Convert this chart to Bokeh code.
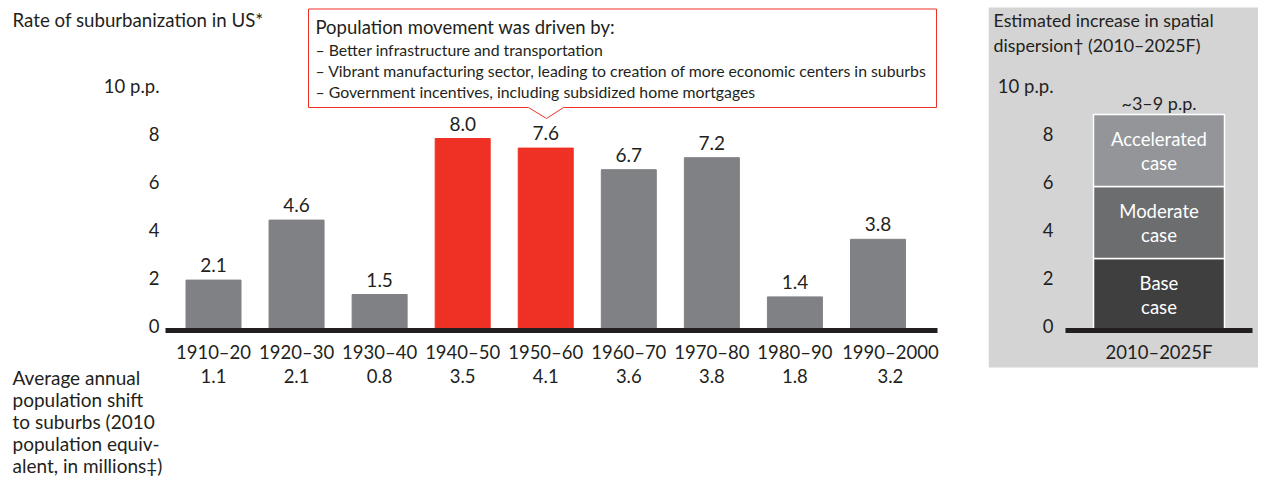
from bokeh.plotting import figure
from bokeh.models import Range1d, FixedTicker, LinearAxis, Label, ColumnDataSource
from bokeh.layouts import row
from bokeh.embed import file_html
from bokeh.resources import INLINE
from bokeh.core.properties import value

# ---------------- data ----------------
decades = ["1910–20", "1920–30", "1930–40", "1940–50", "1950–60",
           "1960–70", "1970–80", "1980–90", "1990–2000"]
rates = [2.1, 4.6, 1.5, 8.0, 7.6, 6.7, 7.2, 1.4, 3.8]
rate_labels = ["2.1", "4.6", "1.5", "8.0", "7.6", "6.7", "7.2", "1.4", "3.8"]
highlighted = [False, False, False, True, True, False, False, False, False]
pop_shift = ["1.1", "2.1", "0.8", "3.5", "4.1", "3.6", "3.8", "1.8", "3.2"]
y_ticks = [0, 2, 4, 6, 8, 10]
y_tick_labels = ["0", "2", "4", "6", "8", "10 p.p."]

forecast_period = ["2010–2025F"]
case_names = ["Base", "Moderate", "Accelerated"]
case_bottoms = [0, 3, 6]
case_tops = [3, 6, 9]
range_label = "~3–9 p.p."

title_left = "Rate of suburbanization in US*"
title_right = ["Estimated increase in spatial", "dispersion† (2010–2025F)"]
callout_head = "Population movement was driven by:"
callout_items = ["– Better infrastructure and transportation",
                 "– Vibrant manufacturing sector, leading to creation of more economic centers in suburbs",
                 "– Government incentives, including subsidized home mortgages"]
shift_caption = ["Average annual", "population shift", "to suburbs (2010",
                 "population equiv-", "alent, in millions‡)"]

# ---------------- style ----------------
FONT = "Lato"
TXT = "#231f20"
GRAY = "#808184"
RED = "#ee3124"
PANEL = "#d4d4d5"
CASE_COLORS = ["#3f3f40", "#6c6d6f", "#939598"]
AX_FS = "18.5px"
VAL_FS = "19px"
TEXT_FS = "18px"

# page-pixel layout (figures start at the page's top-left corner)
PX_PER_UNIT = 24.0
BASE_Y = 330.0                      # page y of value 0
L_AXIS_LEFT, L_AXIS_RIGHT = 165.0, 937.0
STEP = 83.06                        # px between bar centres
FIRST_CENTER = 213.0
LW, LH = 988, 480
R_LEFT, RW, RH = 988, 270, 368
R_AXIS_LEFT, R_AXIS_RIGHT = 1065.0, 1252.0
R_CENTER, R_UNIT = 1158.5, 187.0
TICK_LIFT = 0.2                     # tick labels sit slightly above their gridline value
LAST_NUDGE = 0.15                   # last category label is nudged right as in the original


def lx(px):
    return (px - FIRST_CENTER) / STEP


def ly(py):
    return (BASE_Y - py) / PX_PER_UNIT


def rx(px):
    return (px - R_CENTER) / R_UNIT


def style_axis(ax, standoff, size=AX_FS):
    ax.axis_line_color = None
    ax.major_tick_line_color = None
    ax.minor_tick_line_color = None
    ax.major_tick_in = 0
    ax.major_tick_out = 0
    ax.minor_tick_in = 0
    ax.minor_tick_out = 0
    ax.major_label_standoff = standoff
    ax.major_label_text_font = FONT
    ax.major_label_text_font_size = size
    ax.major_label_text_color = TXT


def blank_fig(w, h, xr, yr):
    f = figure(width=w, height=h, output_backend="svg", toolbar_location=None,
               x_range=xr, y_range=yr, min_border=0,
               x_axis_location=None, y_axis_location=None)
    f.outline_line_color = None
    f.grid.visible = False
    f.background_fill_color = "white"
    f.border_fill_color = "white"
    return f


# ---------------- left figure ----------------
p = blank_fig(LW, LH, Range1d(lx(0), lx(LW)), Range1d(ly(LH), ly(0)))

idx = list(range(len(decades)))
src = ColumnDataSource(dict(x=idx, top=rates, lab=rate_labels,
                            color=[RED if h else GRAY for h in highlighted]))
p.vbar(x="x", top="top", bottom=0, width=55 / STEP, color="color", source=src)
p.text(x="x", y="top", text="lab", source=src, text_align="center", text_baseline="middle",
       y_offset=-15, text_font=value(FONT), text_font_size=VAL_FS, text_color=TXT)

lifted = [t + TICK_LIFT for t in y_ticks]
yax = LinearAxis(ticker=FixedTicker(ticks=lifted), fixed_location=lx(L_AXIS_LEFT),
                 major_label_overrides={t: s for t, s in zip(lifted, y_tick_labels)})
style_axis(yax, 6)
p.add_layout(yax, "left")

label_pos = idx[:-1] + [idx[-1] + LAST_NUDGE]
xax = LinearAxis(ticker=FixedTicker(ticks=label_pos), fixed_location=0,
                 major_label_overrides={t: d for t, d in zip(label_pos, decades)})
style_axis(xax, 10)
p.add_layout(xax, "below")

xax2 = LinearAxis(ticker=FixedTicker(ticks=label_pos), fixed_location=0,
                  major_label_overrides={t: v for t, v in zip(label_pos, pop_shift)})
style_axis(xax2, 38)
p.add_layout(xax2, "below")

# base line of the bar chart
p.segment(x0=lx(L_AXIS_LEFT), x1=lx(L_AXIS_RIGHT), y0=0, y1=0, line_width=5, line_color=TXT)

# callout box with pointer
box_l, box_r, box_t, box_b = 308, 936, 8.5, 107
tip_x, tip_y, n_l, n_r = 546, 118, 528, 563
cx = [box_l, box_r, box_r, n_r, tip_x, n_l, box_l]
cy = [box_t, box_t, box_b, box_b, tip_y, box_b, box_b]
p.patch([lx(v) for v in cx], [ly(v) for v in cy], fill_color="white",
        line_color=RED, line_width=1)
p.add_layout(Label(x=lx(315), y=ly(26.5), text=callout_head, text_baseline="middle",
                   text_font=FONT, text_font_size="18.5px", text_color=TXT))
for i, item in enumerate(callout_items):
    p.add_layout(Label(x=lx(315), y=ly(48.5 + 21.3 * i), text=item, text_baseline="middle",
                       text_font=FONT, text_font_size="15.8px", text_color=TXT))

p.add_layout(Label(x=lx(12), y=ly(19.5), text=title_left, text_baseline="middle",
                   text_font=FONT, text_font_size="18.7px", text_color=TXT))
for i, line in enumerate(shift_caption):
    p.add_layout(Label(x=lx(12), y=ly(377 + 22 * i), text=line, text_baseline="middle",
                       text_font=FONT, text_font_size="19px", text_color=TXT))

# ---------------- right figure ----------------
q = blank_fig(RW, RH, Range1d(rx(R_LEFT), rx(R_LEFT + RW)), Range1d(ly(RH), ly(0)))
q.quad(left=rx(R_LEFT), right=rx(R_LEFT + RW), top=ly(7), bottom=ly(367),
       fill_color=PANEL, line_color=None)

cpos = [0] * len(case_names)
csrc = ColumnDataSource(dict(x=cpos, bottom=case_bottoms, top=case_tops,
                             color=CASE_COLORS, name=case_names,
                             mid=[(b + t) / 2 for b, t in zip(case_bottoms, case_tops)],
                             case=["case"] * 3))
q.vbar(x="x", bottom="bottom", top="top", width=131 / R_UNIT, fill_color="color",
       line_color="white", line_width=1.5, source=csrc)
q.text(x="x", y="mid", text="name", source=csrc, text_align="center", text_baseline="middle",
       y_offset=-12, text_font=value(FONT), text_font_size="18.5px", text_color="white")
q.text(x="x", y="mid", text="case", source=csrc, text_align="center", text_baseline="middle",
       y_offset=12, text_font=value(FONT), text_font_size="18.5px", text_color="white")
q.add_layout(Label(x=0, y=case_tops[-1], text=range_label, text_align="center",
                   text_baseline="middle", y_offset=12, text_font=FONT,
                   text_font_size=TEXT_FS, text_color=TXT))

ryax = LinearAxis(ticker=FixedTicker(ticks=lifted), fixed_location=rx(R_AXIS_LEFT),
                  major_label_overrides={t: s for t, s in zip(lifted, y_tick_labels)})
style_axis(ryax, 12)
q.add_layout(ryax, "left")

rxax = LinearAxis(ticker=FixedTicker(ticks=[0]), fixed_location=0,
                  major_label_overrides={0: forecast_period[0]})
style_axis(rxax, 10)
q.add_layout(rxax, "below")
q.segment(x0=rx(R_AXIS_LEFT), x1=rx(R_AXIS_RIGHT), y0=0, y1=0, line_width=5, line_color=TXT)

for i, line in enumerate(title_right):
    q.add_layout(Label(x=rx(993), y=ly(19.5 + 24.5 * i), text=line, text_baseline="middle",
                       text_font=FONT, text_font_size="17.8px", text_color=TXT))

layout = row(p, q)
open("out.html", "w").write(file_html(layout, INLINE))
